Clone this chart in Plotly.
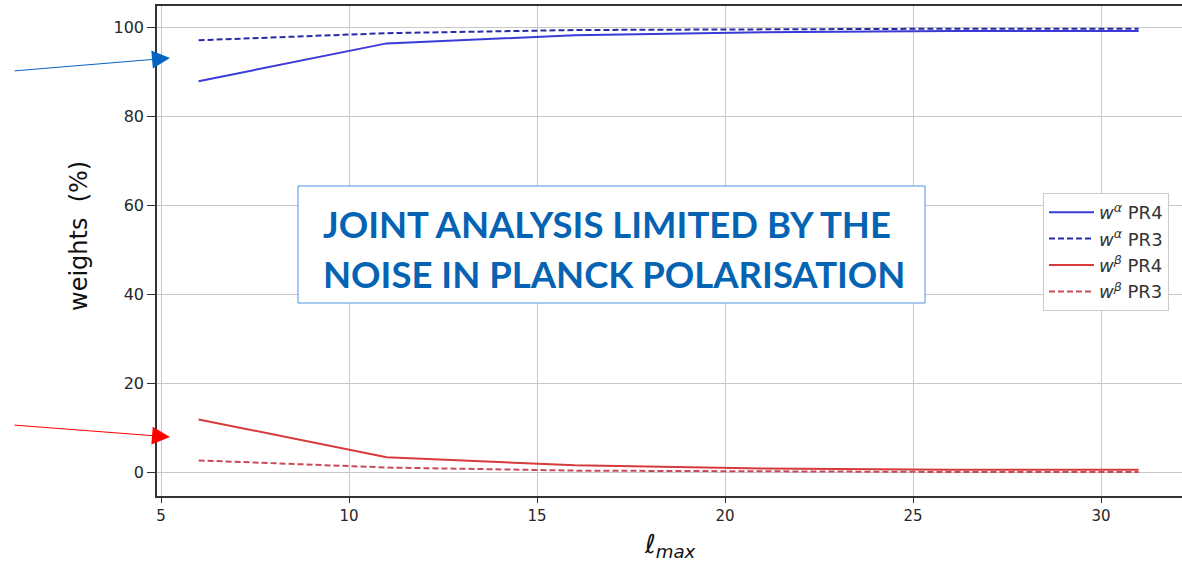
import plotly.graph_objects as go

# data
lmax = [6, 11, 16, 21, 26, 31]
w_alpha_pr4 = [88.0, 96.5, 98.3, 99.0, 99.3, 99.3]
w_alpha_pr3 = [97.2, 98.8, 99.5, 99.7, 99.8, 99.8]
w_beta_pr4 = [12.0, 3.5, 1.7, 1.0, 0.7, 0.7]
w_beta_pr3 = [2.8, 1.2, 0.5, 0.3, 0.2, 0.2]
x_ticks = [5, 10, 15, 20, 25, 30]
y_ticks = [0, 20, 40, 60, 80, 100]
box_lines = ["JOINT ANALYSIS LIMITED BY THE", "NOISE IN PLANCK POLARISATION"]

fig = go.Figure()
series = [
    (w_alpha_pr4, "<i>w</i><sup><i>α</i></sup> PR4", "#3a3ad6", "solid"),
    (w_alpha_pr3, "<i>w</i><sup><i>α</i></sup> PR3", "#2a2aa8", "6px,3px"),
    (w_beta_pr4, "<i>w</i><sup><i>β</i></sup> PR4", "#d63a3a", "solid"),
    (w_beta_pr3, "<i>w</i><sup><i>β</i></sup> PR3", "#c84a5a", "6px,3px"),
]
for vals, name, col, dash in series:
    fig.add_trace(go.Scatter(x=lmax, y=vals, mode="lines", name=name,
                             line=dict(color=col, width=2, dash=dash)))

W, H = 1182, 564
L, R, T, B = 157, 0, 6, 68
pw = W - L - R
ph = H - T - B
xpx = 37.6
x0 = 5 - 4 / xpx
x1 = x0 + pw / xpx

def px_x(p):
    return (p - L) / pw

def px_y(p):
    return 1 - (p - T) / ph

fig.update_layout(
    width=W, height=H,
    margin=dict(l=L, r=R, t=T, b=B),
    plot_bgcolor="white", paper_bgcolor="white",
    font=dict(family="DejaVu Sans", size=15, color="#262626"),
    showlegend=True,
    legend=dict(x=px_x(1043), y=px_y(193), xanchor="left", yanchor="top",
                bgcolor="white", bordercolor="#cccccc", borderwidth=1,
                font=dict(size=18, color="#333333"), itemwidth=45,
                tracegroupgap=0),
    xaxis=dict(range=[x0, x1], tickvals=x_ticks, showgrid=True,
               gridcolor="#c8c8c8", gridwidth=1, zeroline=False,
               showline=True, linecolor="#333333", linewidth=1.5, mirror=True,
               ticks="outside", ticklen=5, tickcolor="#333333",
               tickfont=dict(size=15, color="#262626")),
    yaxis=dict(range=[-5.2, 104.9], tickvals=y_ticks, showgrid=True,
               gridcolor="#c8c8c8", gridwidth=1, zeroline=False,
               showline=True, linecolor="#333333", linewidth=1.5, mirror=False,
               ticks="outside", ticklen=8, tickcolor="#333333",
               tickfont=dict(size=16, color="#262626")),
)

# axis titles
fig.add_annotation(xref="paper", yref="paper", x=px_x(79), y=px_y(236),
                   xanchor="center", yanchor="middle",
                   text="weights  (%)", textangle=-90, showarrow=False,
                   font=dict(size=24, color="#111111", family="DejaVu Sans"))
fig.add_annotation(xref="paper", yref="paper", x=px_x(670), y=px_y(545),
                   xanchor="center", yanchor="middle",
                   text="<i>ℓ</i><sub><i>max</i></sub>", showarrow=False,
                   font=dict(size=26, color="#111111", family="DejaVu Sans"))

# highlighted statement box
fig.add_shape(type="rect", xref="paper", yref="paper",
              x0=px_x(298), x1=px_x(925), y0=px_y(303), y1=px_y(186),
              fillcolor="white", line=dict(color="#4d96dc", width=1), layer="above")
for line_txt, yc in zip(box_lines, [224, 274]):
    fig.add_annotation(xref="paper", yref="paper", x=px_x(321), y=px_y(yc),
                       xanchor="left", yanchor="middle", text="<b>" + line_txt + "</b>",
                       showarrow=False,
                       font=dict(family="Lato", size=36.5, color="#0563b4"))

# arrows
fig.add_annotation(xref="paper", yref="paper", x=px_x(170), y=px_y(58),
                   ax=-157, ay=13, axref="pixel", ayref="pixel", text="",
                   showarrow=True, arrowhead=2, arrowsize=3.6, arrowwidth=1,
                   arrowcolor="#0563c1", standoff=0)
fig.add_annotation(xref="paper", yref="paper", x=px_x(170), y=px_y(437),
                   ax=-157, ay=-12, axref="pixel", ayref="pixel", text="",
                   showarrow=True, arrowhead=2, arrowsize=3.6, arrowwidth=1,
                   arrowcolor="#ff0000", standoff=0)

fig.write_html("out.html")
